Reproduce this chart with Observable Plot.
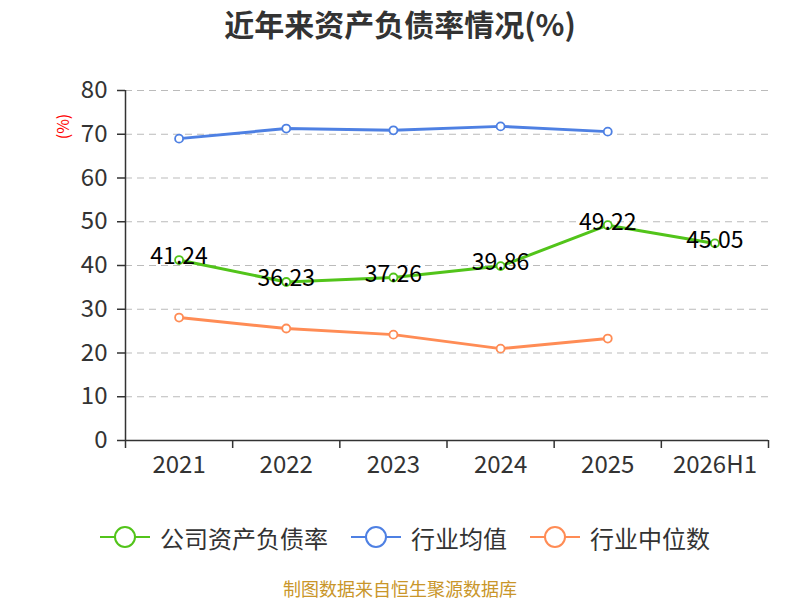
<!DOCTYPE html>
<html>
<head>
<meta charset="utf-8">
<script src="https://cdn.jsdelivr.net/npm/d3@7"></script>
<script src="https://cdn.jsdelivr.net/npm/@observablehq/plot@0.6"></script>
<style>
  html, body { margin: 0; padding: 0; background: #fff; }
  body { width: 800px; height: 600px; overflow: hidden; font-family: "Noto Sans CJK SC", "Noto Sans", sans-serif; }
  #title { height: 60px; line-height: 46px; text-align: center; font-size: 30px; font-weight: bold; color: #333; }
  #chart { height: 430px; position: relative; }
  #legend { height: 60px; display: flex; justify-content: center; align-items: center; gap: 23px; font-size: 24px; color: #333; margin-top: 17px; padding-left: 10px; }
  .item { display: flex; align-items: center; gap: 10px; }
  .item svg { display: block; }
  #caption { text-align: center; font-size: 18px; line-height: 18px; color: #c9962a; margin-top: 12px; }
</style>
</head>
<body>
<div id="title">近年来资产负债率情况(%)</div>
<div id="chart"></div>
<div id="legend"></div>
<div id="caption">制图数据来自恒生聚源数据库</div>
<script>
const categories = ["2021", "2022", "2023", "2024", "2025", "2026H1"];
const companyRatio = [41.24, 36.23, 37.26, 39.86, 49.22, 45.05];
const industryAvg = [69.0, 71.3, 70.9, 71.8, 70.6];
const industryMedian = [28.1, 25.6, 24.2, 21.0, 23.3];
const yTicks = [0, 10, 20, 30, 40, 50, 60, 70, 80];
const seriesNames = ["公司资产负债率", "行业均值", "行业中位数"];
const colors = ["#52c41a", "#4e80e3", "#ff8c55"];

const toRows = (vals, s) => vals.map((v, i) => ({i, v, s}));
const company = toRows(companyRatio, seriesNames[0]);
const avg = toRows(industryAvg, seriesNames[1]);
const med = toRows(industryMedian, seriesNames[2]);
const boundaries = d3.range(categories.length + 1).map(k => k - 0.5);
const centers = d3.range(categories.length);

const font = "Noto Sans CJK SC, Noto Sans, sans-serif";

const chart = Plot.plot({
  width: 800,
  height: 430,
  marginTop: 30,
  marginBottom: 50,
  marginLeft: 125,
  marginRight: 32,
  style: {fontFamily: font, background: "#fff", overflow: "visible"},
  x: {type: "linear", domain: [-0.5, categories.length - 0.5]},
  y: {domain: [0, 80]},
  marks: [
    Plot.gridY(yTicks.filter(d => d > 0), {stroke: "#bbb", strokeOpacity: 1, strokeDasharray: "7,5", strokeWidth: 1.2}),
    Plot.axisY(yTicks, {tickSize: 8, tickPadding: 10, fontSize: 24, fill: "#333", stroke: "#333", strokeWidth: 1.5, label: null}),
    Plot.axisX(boundaries, {tickSize: 8, tickFormat: () => "", stroke: "#333", strokeWidth: 1.5, label: null}),
    Plot.axisX(centers, {tickSize: 0, tickPadding: 15, fontSize: 24, fill: "#333", tickFormat: i => categories[i], label: null}),
    Plot.ruleY([0], {stroke: "#333", strokeWidth: 1.5}),
    Plot.ruleX([-0.5], {y1: 0, y2: 80, stroke: "#333", strokeWidth: 1.5}),
    Plot.text(["(%)"], {frameAnchor: "top-left", textAnchor: "middle", dx: -68, dy: 36, rotate: -90, fill: "red", fontSize: 16}),
    Plot.line(avg, {x: "i", y: "v", stroke: colors[1], strokeWidth: 3}),
    Plot.dot(avg, {x: "i", y: "v", r: 4, fill: "#fff", stroke: colors[1], strokeWidth: 1.8}),
    Plot.line(med, {x: "i", y: "v", stroke: colors[2], strokeWidth: 3}),
    Plot.dot(med, {x: "i", y: "v", r: 4, fill: "#fff", stroke: colors[2], strokeWidth: 1.8}),
    Plot.line(company, {x: "i", y: "v", stroke: colors[0], strokeWidth: 3}),
    Plot.dot(company, {x: "i", y: "v", r: 4, fill: "#fff", stroke: colors[0], strokeWidth: 1.8}),
    Plot.text(company, {x: "i", y: "v", text: d => d.v.toFixed(2), dy: -3, fontSize: 23, fill: "#000"})
  ]
});
document.getElementById("chart").appendChild(chart);

const legend = document.getElementById("legend");
seriesNames.forEach((name, k) => {
  const item = document.createElement("div");
  item.className = "item";
  item.innerHTML = `<svg width="50" height="26"><line x1="0" x2="50" y1="13" y2="13" stroke="${colors[k]}" stroke-width="2"/><circle cx="25" cy="13" r="10" fill="#fff" stroke="${colors[k]}" stroke-width="2"/></svg><span>${name}</span>`;
  legend.appendChild(item);
});
</script>
</body>
</html>
